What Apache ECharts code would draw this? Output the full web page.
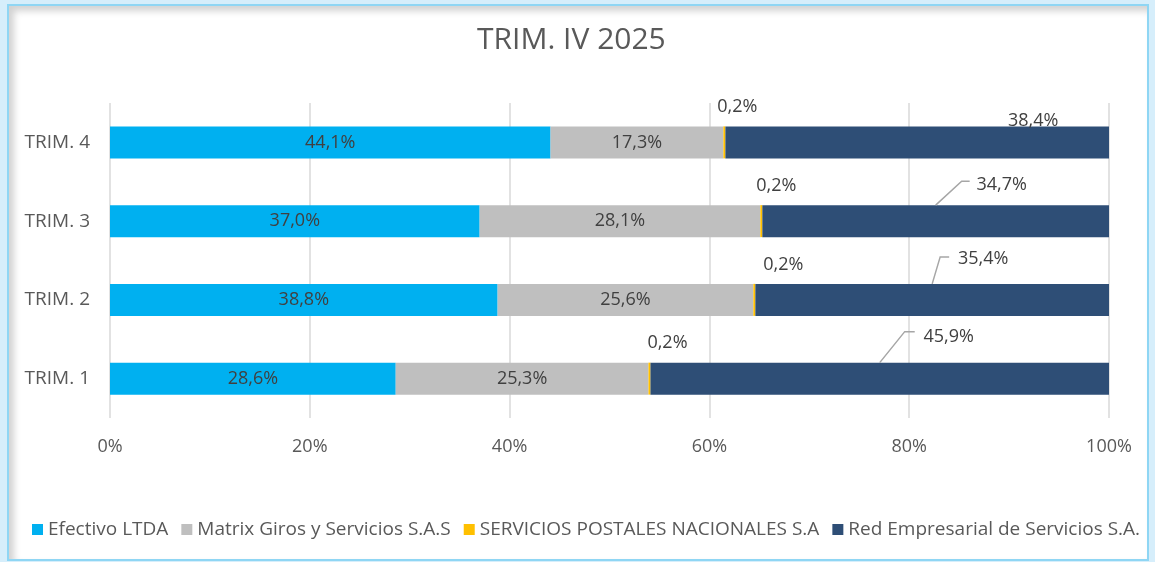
<!DOCTYPE html>
<html>
<head>
<meta charset="utf-8">
<script src="https://cdn.jsdelivr.net/npm/echarts@6/dist/echarts.min.js"></script>
<style>
  html, body {
    margin: 0;
    padding: 0;
    width: 1155px;
    height: 562px;
    background: #d6eefb;
    overflow: hidden;
  }
  .frame {
    position: absolute;
    left: 7px;
    top: 4px;
    width: 1138px;
    height: 553px;
    background: #fff;
    border: 2px solid #8fd6f4;
    box-shadow: inset 5px 5px 7px rgba(0, 0, 0, 0.18);
  }
  #chart {
    position: absolute;
    left: 0;
    top: 0;
    width: 1155px;
    height: 562px;
  }
</style>
</head>
<body>
<div class="frame"></div>
<div id="chart"></div>
<script>
const categories = ['TRIM. 1', 'TRIM. 2', 'TRIM. 3', 'TRIM. 4']
const efectivo = [28.6, 38.8, 37.0, 44.1]
const matrix = [25.3, 25.6, 28.1, 17.3]
const postales = [0.2, 0.2, 0.2, 0.2]
const redEmpresarial = [45.9, 35.4, 34.7, 38.4]
const xTicks = [0, 20, 40, 60, 80, 100]
const seriesNames = [
  'Efectivo LTDA',
  'Matrix Giros y Servicios S.A.S',
  'SERVICIOS POSTALES NACIONALES S.A',
  'Red Empresarial de Servicios S.A.'
]

// label shifts (px) for the labels that sit above the bars
const postalesShift = [[18, -36], [29, -35], [15, -35], [13, -36]]
const redShift = [[69, -42], [51, -41], [66, -36], [116, -22]]
// leader line: elbow dx, elbow dy, end dx (from top of the red segment centre)
const leaderShift = [[25, -31, 35], [8, -27, 17], [26, -24, 34], null]

const textColor = '#404040'
const fontFamily = '"Open Sans", "Noto Sans", sans-serif'
const barWidth = 32

function fmt(v) {
  return v.toFixed(1).replace('.', ',') + '%'
}

function barSeries(name, data, color, extra) {
  return Object.assign({
    name: name,
    type: 'bar',
    stack: 'total',
    barWidth: barWidth,
    data: data,
    itemStyle: { color: color },
    label: {
      show: true,
      position: 'inside',
      color: textColor,
      fontSize: 18,
      fontFamily: fontFamily,
      formatter: (p) => fmt(p.value)
    }
  }, extra || {})
}

const redCentres = categories.map((c, i) => [
  efectivo[i] + matrix[i] + postales[i] + redEmpresarial[i] / 2,
  i
])

const chart = echarts.init(document.getElementById('chart'))

chart.setOption({
  animation: false,
  textStyle: { fontFamily: fontFamily },
  title: {
    text: 'TRIM. IV 2025',
    left: 472,
    top: 20,
    textStyle: {
      color: '#595959',
      fontSize: 30,
      fontWeight: 'normal',
      fontFamily: fontFamily
    }
  },
  legend: {
    data: seriesNames,
    top: 515,
    left: 27,
    icon: 'rect',
    itemWidth: 11,
    itemHeight: 11,
    itemGap: 13,
    textStyle: {
      color: '#595959',
      fontSize: 19,
      fontFamily: fontFamily
    }
  },
  grid: {
    left: 110,
    right: 46,
    top: 103,
    bottom: 144
  },
  xAxis: {
    type: 'value',
    min: xTicks[0],
    max: xTicks[xTicks.length - 1],
    interval: xTicks[1] - xTicks[0],
    axisLine: { show: false },
    axisTick: { show: false },
    axisLabel: {
      margin: 20,
      color: '#595959',
      fontSize: 18,
      formatter: '{value}%'
    },
    splitLine: {
      lineStyle: { color: '#d9d9d9', width: 1.5 }
    }
  },
  yAxis: {
    type: 'category',
    data: categories,
    axisLine: { show: false },
    axisTick: { show: false },
    axisLabel: {
      margin: 20,
      color: '#595959',
      fontSize: 19
    }
  },
  series: [
    barSeries(seriesNames[0], efectivo, '#00b0f0'),
    barSeries(seriesNames[1], matrix, '#bfbfbf'),
    barSeries(seriesNames[2], postales, '#ffc000', {
      labelLayout: (p) => ({ dx: postalesShift[p.dataIndex][0], dy: postalesShift[p.dataIndex][1] })
    }),
    barSeries(seriesNames[3], redEmpresarial, '#2e4e76', {
      labelLayout: (p) => ({ dx: redShift[p.dataIndex][0], dy: redShift[p.dataIndex][1] })
    }),
    {
      type: 'custom',
      data: redCentres,
      z: 5,
      silent: true,
      clip: false,
      renderItem: (params, api) => {
        const s = leaderShift[params.dataIndex]
        if (!s) {
          return null
        }
        const p = api.coord([api.value(0), api.value(1)])
        const y0 = p[1] - barWidth / 2
        return {
          type: 'polyline',
          shape: {
            points: [[p[0], y0], [p[0] + s[0], y0 + s[1]], [p[0] + s[2], y0 + s[1]]]
          },
          style: { stroke: '#a6a6a6', lineWidth: 1.5, fill: null }
        }
      }
    }
  ]
})
</script>
</body>
</html>
